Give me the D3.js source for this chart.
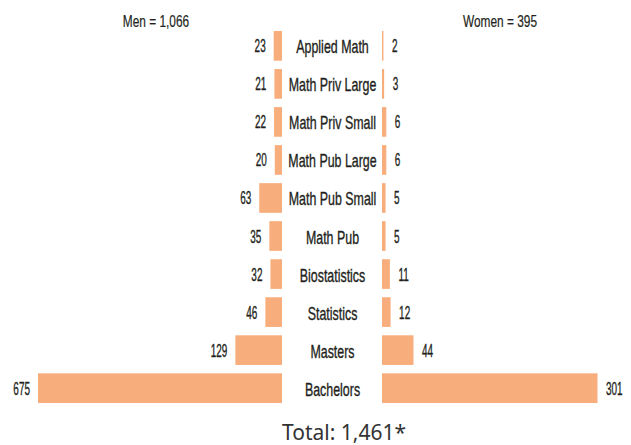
<!DOCTYPE html>
<html>
<head>
<meta charset="utf-8">
<script src="https://cdn.jsdelivr.net/npm/d3@7"></script>
<style>
  body { margin: 0; background: #fff; }
  svg text { fill: #231f20; }
  svg text.cond { stroke: #231f20; stroke-width: 0.35px; }
</style>
</head>
<body>
<svg id="chart" width="631" height="445"></svg>
<script>
// data
const categories = ['Applied Math', 'Math Priv Large', 'Math Priv Small', 'Math Pub Large',
  'Math Pub Small', 'Math Pub', 'Biostatistics', 'Statistics', 'Masters', 'Bachelors']
const men   = [23, 21, 22, 20, 63, 35, 32, 46, 129, 675]
const women = [2, 3, 6, 6, 5, 5, 11, 12, 44, 301]
const menTotal = '1,066'
const womenTotal = '395'
const grandTotal = '1,461*'

const svg = d3.select('#chart')
const condFont = '"Liberation Sans", Arial, sans-serif'
const barColor = '#f8ae7c'

const y = d3.scaleBand().domain(categories).range([31, 403]).paddingInner(0.22)
const xMen = d3.scaleLinear().domain([0, 675]).range([282, 38])
const xWomen = d3.scaleLinear().domain([0, 301]).range([382, 597.5])

const rows = categories.map((c, i) => ({ cat: c, m: men[i], w: women[i] }))

// condensed look: draw at origin and squeeze horizontally
function squeezed(sel, x, yy, sx) {
  return sel.attr('class', 'cond')
    .attr('transform', d => `translate(${x(d)},${yy(d)}) scale(${sx},1)`)
}

// men bars
svg.append('g').selectAll('rect')
  .data(rows).enter().append('rect')
  .attr('x', d => xMen(d.m))
  .attr('y', d => y(d.cat))
  .attr('width', d => xMen(0) - xMen(d.m))
  .attr('height', y.bandwidth())
  .attr('fill', barColor)

// women bars
svg.append('g').selectAll('rect')
  .data(rows).enter().append('rect')
  .attr('x', xWomen(0))
  .attr('y', d => y(d.cat))
  .attr('width', d => xWomen(d.w) - xWomen(0))
  .attr('height', y.bandwidth())
  .attr('fill', barColor)

const mid = y.bandwidth() / 2 + 6.5

// category labels
svg.append('g').selectAll('text')
  .data(rows).enter().append('text')
  .call(squeezed, () => 332.5, d => y(d.cat) + mid + 1, 0.69)
  .attr('text-anchor', 'middle')
  .style('font-family', condFont)
  .style('font-size', '18px')
  .text(d => d.cat)

// value labels
svg.append('g').selectAll('text')
  .data(rows).enter().append('text')
  .call(squeezed, d => xMen(d.m) - 8, d => y(d.cat) + mid, 0.57)
  .attr('text-anchor', 'end')
  .style('font-family', condFont)
  .style('font-size', '17.5px')
  .text(d => d.m)

svg.append('g').selectAll('text')
  .data(rows).enter().append('text')
  .call(squeezed, d => xWomen(d.w) + 8.5, d => y(d.cat) + mid, 0.57)
  .attr('text-anchor', 'start')
  .style('font-family', condFont)
  .style('font-size', '17.5px')
  .text(d => d.w)

// headers
svg.append('text')
  .attr('class', 'cond')
  .attr('transform', 'translate(156,27) scale(0.72,1)')
  .attr('text-anchor', 'middle')
  .style('font-family', condFont)
  .style('font-size', '16.5px')
  .style('stroke-width', '0.2px')
  .text('Men = ' + menTotal)

svg.append('text')
  .attr('class', 'cond')
  .attr('transform', 'translate(500,27) scale(0.72,1)')
  .attr('text-anchor', 'middle')
  .style('font-family', condFont)
  .style('font-size', '16.5px')
  .style('stroke-width', '0.2px')
  .text('Women = ' + womenTotal)

// total
svg.append('text')
  .attr('x', 344)
  .attr('y', 439.5)
  .attr('text-anchor', 'middle')
  .style('font-family', '"Noto Sans", sans-serif')
  .style('font-size', '21px')
  .style('fill', '#333')
  .text('Total: ' + grandTotal)
</script>
</body>
</html>
